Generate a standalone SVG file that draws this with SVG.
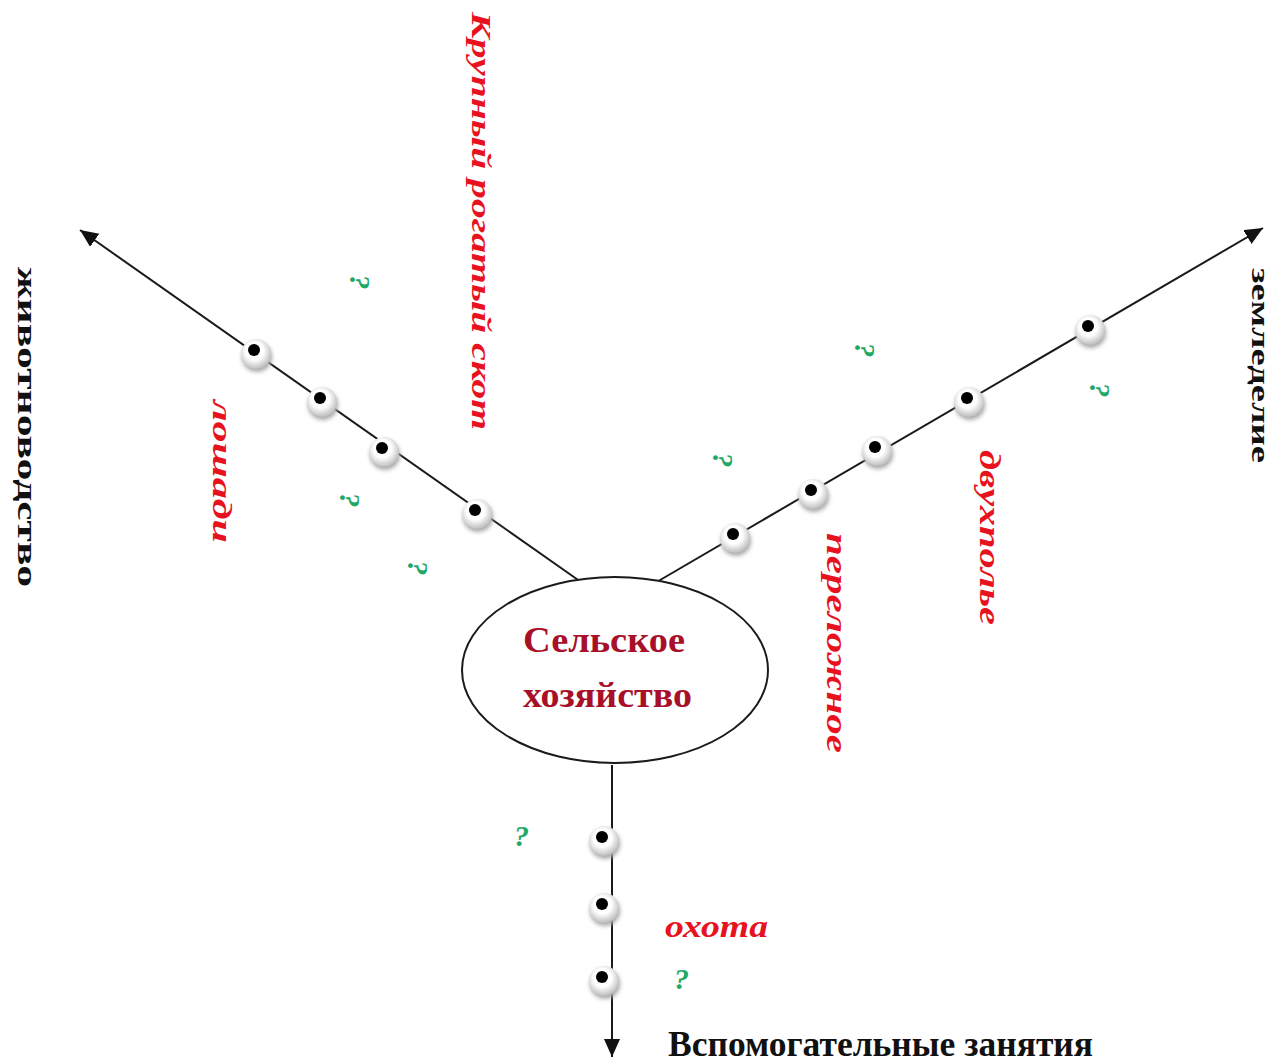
<svg xmlns="http://www.w3.org/2000/svg" xmlns:xlink="http://www.w3.org/1999/xlink" width="1279" height="1064" viewBox="0 0 1279 1064">
<style>
.ln{stroke:#1a1a1a;stroke-width:2;fill:none}
.red{fill:#e8121e;font-family:"Liberation Serif","DejaVu Serif",serif;font-style:italic;font-weight:bold}
.blk{fill:#111;font-family:"Liberation Serif","DejaVu Serif",serif;font-weight:bold}
.ctr{fill:#a8102a;font-family:"Liberation Serif","DejaVu Serif",serif;font-weight:bold;font-size:36px}
.q{fill:#1fa866;font-family:"Liberation Serif","DejaVu Serif",serif;font-style:italic;font-weight:bold;font-size:30px}
</style>
<defs>
<marker id="arr" markerUnits="userSpaceOnUse" markerWidth="20" markerHeight="18" refX="18" refY="8" orient="auto">
<path d="M0,0 L18,8 L0,16 z" fill="#111"/>
</marker>
<radialGradient id="rg" cx="0.45" cy="0.4" r="0.6">
<stop offset="0.5" stop-color="#ffffff"/>
<stop offset="1" stop-color="#bdbdbd"/>
</radialGradient>
<filter id="blur" x="-50%" y="-50%" width="200%" height="200%"><feGaussianBlur stdDeviation="2"/></filter>
<g id="bead">
<circle cx="3" cy="7" r="15" fill="#a8a8a8" filter="url(#blur)"/>
<circle cx="2" cy="4" r="15" fill="url(#rg)"/>
<circle cx="0" cy="0" r="6" fill="#000"/>
</g>
</defs>
<rect width="1279" height="1064" fill="#fff"/>

<g id="connectors">
<line class="ln" x1="581" y1="582" x2="80" y2="230" marker-end="url(#arr)"/>
<line class="ln" x1="655" y1="583" x2="1263" y2="228" marker-end="url(#arr)"/>
<line class="ln" x1="612" y1="765" x2="612" y2="1057" marker-end="url(#arr)"/>
</g>

<g id="beads">
<use xlink:href="#bead" href="#bead" x="254" y="350"/>
<use xlink:href="#bead" href="#bead" x="320" y="398"/>
<use xlink:href="#bead" href="#bead" x="382" y="448"/>
<use xlink:href="#bead" href="#bead" x="475" y="510"/>
<use xlink:href="#bead" href="#bead" x="733" y="534"/>
<use xlink:href="#bead" href="#bead" x="811" y="490"/>
<use xlink:href="#bead" href="#bead" x="875" y="447"/>
<use xlink:href="#bead" href="#bead" x="967" y="398"/>
<use xlink:href="#bead" href="#bead" x="1088" y="326"/>
<use xlink:href="#bead" href="#bead" x="602" y="837"/>
<use xlink:href="#bead" href="#bead" x="602" y="904"/>
<use xlink:href="#bead" href="#bead" x="602" y="977"/>
</g>

<g id="center">
<ellipse cx="615" cy="670" rx="153" ry="93" fill="#fff" stroke="#1a1a1a" stroke-width="2"/>
<text class="ctr" x="523" y="652" textLength="162" lengthAdjust="spacingAndGlyphs">Сельское</text>
<text class="ctr" x="523" y="707" textLength="169" lengthAdjust="spacingAndGlyphs">хозяйство</text>
</g>

<g id="zhivotnovodstvo">
<text class="blk" font-size="28" transform="translate(18,267) rotate(90)" textLength="320" lengthAdjust="spacingAndGlyphs">животноводство</text>
</g>
<g id="zemledelie">
<text class="blk" font-size="26" transform="translate(1252,268) rotate(90)" textLength="195" lengthAdjust="spacingAndGlyphs">земледелие</text>
</g>
<g id="vspomogatelnye">
<text class="blk" font-size="36" x="668" y="1056" textLength="425" lengthAdjust="spacingAndGlyphs">Вспомогательные занятия</text>
</g>

<g id="krs">
<text class="red" font-size="28" transform="translate(472,12) rotate(90)" textLength="418" lengthAdjust="spacingAndGlyphs">Крупный рогатый скот</text>
</g>
<g id="loshadi">
<text class="red" font-size="28" transform="translate(213,400) rotate(90)" textLength="143" lengthAdjust="spacingAndGlyphs">лошади</text>
</g>
<g id="perelozhnoe">
<text class="red" font-size="30" transform="translate(827,533) rotate(90)" textLength="220" lengthAdjust="spacingAndGlyphs">переложное</text>
</g>
<g id="dvuhpolie">
<text class="red" font-size="30" transform="translate(980,450) rotate(90)" textLength="175" lengthAdjust="spacingAndGlyphs">двухполье</text>
</g>
<g id="ohota">
<text class="red" font-size="32" x="665" y="937" textLength="103" lengthAdjust="spacingAndGlyphs">охота</text>
</g>

<g id="questions">
<text class="q" text-anchor="middle" dominant-baseline="central" transform="translate(360,282) rotate(90)">?</text>
<text class="q" text-anchor="middle" dominant-baseline="central" transform="translate(350,500) rotate(90)">?</text>
<text class="q" text-anchor="middle" dominant-baseline="central" transform="translate(418,568) rotate(90)">?</text>
<text class="q" text-anchor="middle" dominant-baseline="central" transform="translate(865,350) rotate(90)">?</text>
<text class="q" text-anchor="middle" dominant-baseline="central" transform="translate(723,460) rotate(90)">?</text>
<text class="q" text-anchor="middle" dominant-baseline="central" transform="translate(1100,390) rotate(90)">?</text>
<text class="q" x="514" y="846">?</text>
<text class="q" x="674" y="989">?</text>
</g>
</svg>
